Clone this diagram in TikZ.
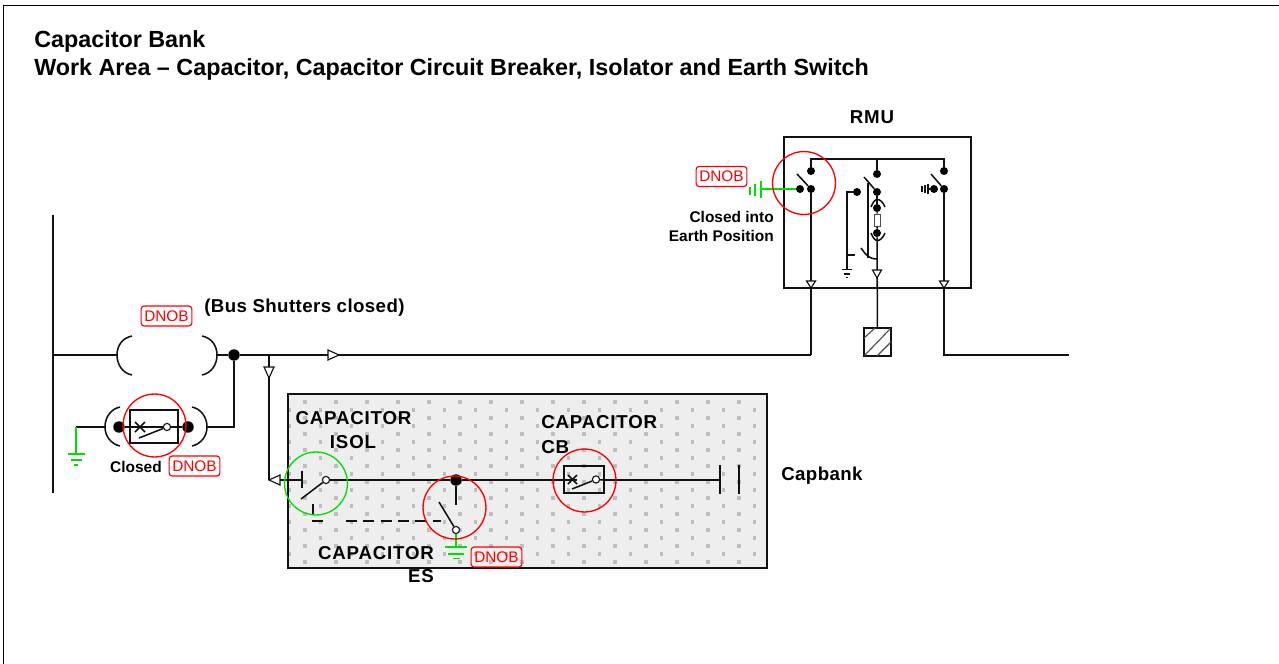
\documentclass[tikz,border=0pt]{standalone}
\usepackage{fontspec}
\setmainfont{Liberation Sans}
\usetikzlibrary{positioning}
\definecolor{mred}{HTML}{FF0000}
\definecolor{mgreen}{HTML}{00E000}
\definecolor{mzone}{HTML}{EEEEEE}
\definecolor{mspot}{HTML}{BEBEBE}
\definecolor{mline}{HTML}{111111}
\newfontfamily\spacedfont[LetterSpace=4.5]{Liberation Sans Bold}
\newfontfamily\tightfont[LetterSpace=2.2]{Liberation Sans Bold}
\tikzstyle{wire} = [draw=mline, line width=1.15pt]
\tikzstyle{eline} = [draw=mgreen, line width=1.15pt]
\tikzstyle{title} = [anchor=base west, inner sep=0pt, font=\fontsize{17.5}{20}\selectfont\bfseries]
\tikzstyle{label} = [inner sep=0pt, font=\fontsize{14}{17}\spacedfont]
\tikzstyle{tlabel} = [inner sep=0pt, anchor=west, font=\fontsize{14}{17}\tightfont]
\tikzstyle{note} = [inner sep=0pt, font=\fontsize{11.6}{14}\selectfont\bfseries]
\tikzstyle{dnob} = [draw=mred, text=mred, rounded corners=2.2pt, line width=0.85pt, minimum width=38pt, minimum height=15pt, inner sep=0pt, font=\fontsize{11.5}{14}\selectfont]
\tikzstyle{ring} = [circle, draw=mred, line width=1pt, minimum size=47.2pt, inner sep=0pt]
\tikzstyle{bigdot} = [circle, fill=black, minimum size=8.6pt, inner sep=0pt]
\tikzstyle{dot} = [circle, fill=black, minimum size=6pt, inner sep=0pt]
\tikzstyle{hollow} = [circle, draw=mline, fill=white, line width=0.85pt, minimum size=5.4pt, inner sep=0pt]
\tikzstyle{tri} = [draw=mline, fill=white, line width=0.85pt, line join=miter]
\begin{document}
\begin{tikzpicture}[x=0.75pt, y=-0.75pt]
  \useasboundingbox (0,0) rectangle (1279,664);
  \draw [black, line width=0.9pt] (3.7,670) -- (3.7,5.5) -- (1279,5.5);
  \node (head) [title] at (34,47.5) {Capacitor Bank};
  \node (heada) [title] at (34,75) {Work Area – Capacitor, Capacitor Circuit Breaker, Isolator and Earth Switch};
  % work area
  \fill [mzone] (288,394) rectangle (767,568);
  \begin{scope}
    \clip (288,394) rectangle (767,568);
    \foreach \row in {0,...,21} {
      \foreach \col in {0,...,16} {
        \fill [mspot] ({274+\col*31+mod(\row,2)*15.5-1.9},{401.7+\row*8-1.9}) rectangle +(3.8,3.8);
      }
    }
  \end{scope}
  \draw [mline, line width=1.1pt] (288,394) rectangle (767,568);
  % bus bar and main line
  \coordinate (bustop) at (53,215);
  \coordinate (busbot) at (53,493);
  \draw [mline, line width=2pt] (bustop) -- (busbot);
  \coordinate (busin) at (53,355);
  \coordinate (shl) at (117,355);
  \coordinate (shr) at (217,355);
  \node (jn) [bigdot] at (234,355) {};
  \coordinate (tee) at (269,355);
  \coordinate (rmua) at (811,355);
  \draw [wire] (busin) -- (shl);
  \draw [wire] (shr) -- (jn);
  \draw [wire] (jn) -- (tee) -- (rmua);
  \draw [wire] (132,336) .. controls (122,338) and (117,346) .. (shl) .. controls (117,364) and (122,373) .. (132,375);
  \draw [wire] (202,336) .. controls (212,338) and (217,346) .. (shr) .. controls (217,364) and (212,373) .. (202,375);
  \draw [tri] (328,350) -- (339,355) -- (328,360) -- cycle;
  \node (dnobbus) [dnob] at (166.5,316) {DNOB};
  \node (shut) [tlabel] at (204,308) {(Bus Shutters closed)};
  % circuit breaker on the transfer bus
  \coordinate (lowr) at (207,427);
  \coordinate (lowl) at (105,427);
  \coordinate (earth) at (76,427);
  \coordinate (earthb) at (76,454);
  \draw [wire] (jn) |- (lowr);
  \draw [wire] (lowl) -- (earth);
  \draw [eline] (earth) -- (earthb);
  \draw [eline] (68,454) -- (85,454);
  \draw [eline] (71,460) -- (82,460);
  \draw [eline] (74,465) -- (78,465);
  \draw [wire] (120,407) .. controls (111,409) and (105,417) .. (lowl) .. controls (105,436) and (111,444) .. (120,446);
  \draw [wire] (192,407) .. controls (201,409) and (207,417) .. (lowr) .. controls (207,436) and (201,444) .. (192,446);
  \node (bkbox) [draw=mline, line width=1.1pt, minimum width=36pt, minimum height=24.8pt, inner sep=0pt] at (154,426.5) {};
  \node (bkl) [bigdot] at (119,427) {};
  \node (bkr) [bigdot] at (188,427) {};
  \node (bko) [hollow] at (167,427) {};
  \draw [wire] (bkl) -- (bko);
  \draw [wire] (bko) -- (bkr);
  \draw [wire] (135,422) -- (145,432) (135,432) -- (145,422);
  \draw [wire] (139,438) -- (bko);
  \node (bkring) [ring] at (154.5,425.5) {};
  \node (closed) [note] at (136,467) {Closed};
  \node (dnobbk) [dnob] at (194.5,466) {DNOB};
  % feeder to capacitor
  \coordinate (isoin) at (269,480);
  \draw [wire] (tee) -- (isoin);
  \draw [tri] (264,367) -- (274,367) -- (269,378) -- cycle;
  \coordinate (isobar) at (302,480);
  \node (isoo) [hollow] at (326,480) {};
  \node (esj) [bigdot] at (456,480) {};
  \coordinate (cbl) at (564,480);
  \coordinate (cbr) at (604,480);
  \coordinate (capa) at (720,480);
  \draw [wire] (isoin) -- (isobar);
  \draw [tri] (280,475) -- (269,480) -- (280,485) -- cycle;
  \draw [wire] (302,471) -- (302,488);
  \draw [wire] (301,499) -- (isoo);
  \draw [wire] (isoo) -- (esj);
  \draw [wire] (esj) -- (cbl);
  \draw [wire] (cbr) -- (capa);
  \draw [wire] (720,465) -- (720,494);
  \draw [wire] (739,465) -- (739,494);
  \node (isoring) [ring, draw=mgreen] at (316,483.5) {};
  \draw [wire] (313,504) -- (313,514);
  \draw [wire] (312,521) -- (323,521);
  \draw [wire, dash pattern=on 8.25pt off 4.75pt] (346,521) -- (441,521);
  % earth switch
  \coordinate (esstem) at (456,505);
  \node (eso) [hollow] at (456,530) {};
  \coordinate (esg) at (456,547);
  \draw [wire] (esj) -- (esstem);
  \draw [wire] (439,502) -- (eso);
  \draw [eline] (eso) -- (esg);
  \draw [eline] (445,547) -- (467,547);
  \draw [eline] (448,554) -- (464,554);
  \draw [eline] (453,558.5) -- (460,558.5);
  \node (esring) [ring] at (454.5,507.5) {};
  \node (dnobes) [dnob] at (496.5,557) {DNOB};
  % capacitor CB
  \node (cbbox) [draw=mline, line width=1.1pt, minimum width=30pt, minimum height=20pt, inner sep=0pt] at (584,479.5) {};
  \node (cbo) [hollow] at (596,479.5) {};
  \draw [wire] (568,475) -- (577,484) (568,484) -- (577,475);
  \draw [wire] (572,489) -- (cbo);
  \draw [wire] (cbl) -- (577,480);
  \draw [wire] (cbo) -- (cbr);
  \node (cbring) [ring] at (584.5,480.5) {};
  % labels in the work area
  \node (isolab) [label] at (353.5,418) {CAPACITOR};
  \node (isolabb) [label] at (353,442) {ISOL};
  \node (eslab) [label] at (376,553) {CAPACITOR};
  \node (eslabb) [label] at (421,576) {ES};
  \node (cblab) [label, anchor=west] at (541,422) {CAPACITOR};
  \node (cblabb) [label, anchor=west] at (541,447) {CB};
  \node (capl) [tlabel] at (781,476) {Capbank};
  % RMU
  \node (rmubox) [draw=mline, line width=1.1pt, minimum width=140.25pt, minimum height=113.25pt, inner sep=0pt] at (877.5,212.5) {};
  \node (rmulab) [label] at (872,117) {RMU};
  \node (at) [dot] at (811,171) {};
  \node (ab) [dot] at (811,189) {};
  \node (ae) [dot] at (800,189) {};
  \node (bt) [dot] at (877,174) {};
  \node (bb) [dot] at (877,192) {};
  \node (be) [dot] at (857,192) {};
  \node (ct) [dot] at (944,171) {};
  \node (cb) [dot] at (944,189) {};
  \node (ce) [dot] at (934,189) {};
  \node (ft) [dot] at (877,208) {};
  \node (fb) [dot] at (877,233) {};
  \coordinate (topb) at (877,159);
  \draw [wire] (at) |- (topb) -| (ct);
  \draw [wire] (topb) -- (bt);
  \draw [wire] (ab) -- (rmua);
  \coordinate (rmuc) at (944,355);
  \coordinate (rmuout) at (1069,355);
  \draw [wire] (cb) -- (rmuc) -- (rmuout);
  \draw [wire] (797,174) -- (ab);
  \draw [wire] (864,177) -- (bb);
  \draw [wire] (931,174) -- (cb);
  \draw [eline] (761,189) -- (ae);
  \draw [eline] (761,181) -- (761,198);
  \draw [eline] (755,184) -- (755,196);
  \draw [eline] (750,187) -- (750,195);
  \draw [wire] (928,184) -- (928,194);
  \draw [wire] (925,185) -- (925,193);
  \draw [wire] (922,186) -- (922,192);
  \draw [wire] (928,189) -- (ce);
  % fuse and earth leg
  \node (fuse) [draw=black!70, fill=white, line width=0.75pt, minimum width=5pt, minimum height=9pt, inner sep=0pt] at (877.5,220) {};
  \node (cablebox) [draw=mline, line width=1.1pt, minimum width=20.25pt, minimum height=21pt, inner sep=0pt] at (877.5,342) {};
  \draw [wire] (bb) -- (ft);
  \draw [wire] (ft) -- (fuse);
  \draw [wire] (fuse) -- (fb);
  \draw [wire] (fb) -- (cablebox);
  \draw [wire] (871,207) .. controls (873,202) and (875,199.5) .. (877.5,199.5) .. controls (880,199.5) and (883,202) .. (885,207);
  \draw [wire] (871,233) .. controls (873,238) and (875,240.5) .. (877.5,240.5) .. controls (880,240.5) and (883,238) .. (885,233);
  \draw [wire] (868,183) -- (868,258);
  \draw [wire] (861,248) .. controls (866,255) and (869,259) .. (877,259);
  \draw [wire] (be) -| (847,269);
  \draw [wire] (847,255) -- (855,255);
  \draw [wire] (842,269.5) -- (852,269.5);
  \draw [wire] (844,274) -- (850,274);
  \draw [wire] (846,277.5) -- (848,277.5);
  \draw [tri] (806.5,281) -- (815.5,281) -- (811,288) -- cycle;
  \draw [tri] (939.5,281) -- (948.5,281) -- (944,288) -- cycle;
  \draw [tri] (872.5,270) -- (881.5,270) -- (877,278) -- cycle;
  \draw [black!70, line width=0.85pt] (864,338) -- (875,328) (864.5,355.5) -- (890.5,328.5) (877,356) -- (891,342);
  \node (aring) [ring] at (804,183) {};
  \node (dnobrmu) [dnob] at (721.5,176.5) {DNOB};
  \node (clinto) [note, anchor=east] at (774,217) {Closed into};
  \node (epos) [note, anchor=east] at (774,236) {Earth Position};
\end{tikzpicture}
\end{document}
